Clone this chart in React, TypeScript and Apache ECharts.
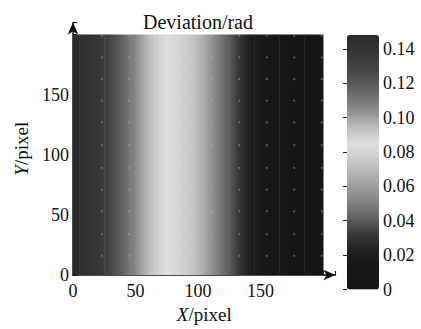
import { useEffect, useRef } from 'react';
import * as echarts from 'echarts';

// Sample positions (X/pixel) and the deviation (rad) read at each of them
const sampleX = [0, 5, 10, 15, 20, 25, 30, 35, 40, 45, 50, 55, 60, 65, 70, 75, 80, 85, 90, 95,
  100, 105, 110, 115, 120, 125, 130, 135, 140, 145, 150, 155, 160, 165, 170, 175, 180, 185, 190, 195, 200];
const deviation = [0.148, 0.146, 0.1435, 0.1405, 0.1375, 0.134, 0.128, 0.122, 0.116, 0.1105,
  0.105, 0.0995, 0.0945, 0.0905, 0.0875, 0.0845, 0.082, 0.0795, 0.0765, 0.0735,
  0.070, 0.064, 0.057, 0.0505, 0.0450, 0.0400, 0.0350, 0.0290, 0.0230, 0.0182,
  0.0145, 0.012, 0.0105, 0.0095, 0.0085, 0.0075, 0.0065, 0.0055, 0.0045, 0.0035, 0.003];
const imageTop = 200;

// faint grid dots
const dotX = [23, 45, 67, 89, 111, 133, 155, 177, 199];
const dotY = [16, 34, 53, 71, 89, 108, 127, 145, 163, 181, 199];

const axisTickLabels = [0, 50, 100, 150];
const colorbarMin = 0;
const colorbarMax = 0.148;
const colormap = ['#141414', '#161616', '#1d1d1d', '#363636', '#646464', '#8a8a8a', '#a8a8a8',
  '#c6c6c6', '#e0e0e0', '#b8b8b8', '#868686', '#636363', '#484848', '#373737', '#2a2a2a'];

const FONT = '"Liberation Serif", "Times New Roman", serif';

function colorOf(v: number) {
  let t = (v - colorbarMin) / (colorbarMax - colorbarMin);
  t = Math.max(0, Math.min(1, t));
  return echarts.color.lerp(t, colormap) as string;
}

export default function App() {
  const ref = useRef<HTMLDivElement>(null);
  useEffect(() => {
    document.body.style.margin = '0';
    if (!ref.current) return;
    const chart = echarts.init(ref.current, null, { renderer: 'svg' });
    const bandData = sampleX.slice(0, -1).map((x, i) => [x, deviation[i], sampleX[i + 1], deviation[i + 1]]);
    const dots: number[][] = [];
    dotY.forEach((y) => dotX.forEach((x) => dots.push([x, y])));
    const labelFmt = (v: number) => (axisTickLabels.includes(v) ? String(v) : '');
    const nameStyle = {
      fontFamily: FONT, fontSize: 19, color: '#111',
      rich: { i: { fontFamily: FONT, fontSize: 19, fontStyle: 'italic', color: '#111' } },
    };
    chart.setOption({
      animation: false,
      backgroundColor: '#fff',
      title: {
        text: 'Deviation/rad',
        left: 198,
        textAlign: 'center',
        top: 12,
        padding: 0,
        textStyle: { fontFamily: FONT, fontSize: 20, fontWeight: 'normal', color: '#111' },
      },
      grid: [
        { left: 73, top: 22.5, width: 262.5, height: 261.5 },
        { left: 347, top: 35, width: 32, height: 254.5 },
      ],
      xAxis: [
        {
          type: 'value', gridIndex: 0, min: 0, max: 210, interval: 50,
          name: '{i|X}/pixel', nameLocation: 'middle', nameGap: 30,
          nameTextStyle: nameStyle,
          axisLine: { show: true, symbol: ['none', 'arrow'], symbolSize: [8, 12], lineStyle: { color: '#111', width: 1.5 } },
          axisTick: { show: true, inside: true, length: 4, lineStyle: { color: '#111' } },
          axisLabel: { formatter: labelFmt, fontFamily: FONT, fontSize: 18, color: '#111', margin: 7 },
          splitLine: { show: false },
        },
        { type: 'value', gridIndex: 1, min: 0, max: 1, show: false },
      ],
      yAxis: [
        {
          type: 'value', gridIndex: 0, min: 0, max: 210, interval: 50,
          name: '{i|Y}/pixel', nameLocation: 'middle', nameGap: 42, nameRotate: 90,
          nameTextStyle: nameStyle,
          axisLine: { show: true, symbol: ['none', 'arrow'], symbolSize: [8, 12], lineStyle: { color: '#111', width: 1.5 } },
          axisTick: { show: true, inside: true, length: 4, lineStyle: { color: '#111' } },
          axisLabel: { formatter: labelFmt, fontFamily: FONT, fontSize: 18, color: '#111', margin: 4 },
          splitLine: { show: false },
        },
        {
          type: 'value', gridIndex: 1, position: 'right', min: colorbarMin, max: colorbarMax, interval: 0.02,
          axisLine: { show: false },
          axisTick: { show: true, inside: true, length: 4, lineStyle: { color: '#222' } },
          axisLabel: {
            formatter: (v: number) => (v === 0 ? '0' : v > colorbarMax ? '' : v.toFixed(2)),
            fontFamily: FONT, fontSize: 18, color: '#111', margin: 4,
          },
          splitLine: { show: false },
        },
      ],
      visualMap: {
        type: 'continuous',
        min: colorbarMin,
        max: colorbarMax,
        dimension: 1,
        seriesIndex: 0,
        calculable: false,
        hoverLink: false,
        left: 347,
        top: 35,
        padding: 0,
        itemWidth: 32,
        itemHeight: 254.5,
        inRange: { color: colormap },
        textStyle: { fontSize: 0 },
      },
      series: [
        {
          type: 'custom',
          xAxisIndex: 0,
          yAxisIndex: 0,
          data: bandData,
          encode: { x: 0, y: 1 },
          renderItem: (params: any, api: any) => {
            const x0 = api.value(0);
            const v0 = api.value(1);
            const x1 = api.value(2);
            const v1 = api.value(3);
            const p0 = api.coord([x0, imageTop]);
            const p1 = api.coord([x1, 0]);
            const stops = [0, 0.25, 0.5, 0.75, 1].map((o) => ({ offset: o, color: colorOf(v0 + (v1 - v0) * o) }));
            return {
              type: 'rect',
              shape: { x: p0[0], y: p0[1], width: p1[0] - p0[0] + 0.5, height: p1[1] - p0[1] },
              style: { fill: new echarts.graphic.LinearGradient(0, 0, 1, 0, stops) },
            };
          },
          z: 1,
        },
        {
          type: 'scatter',
          xAxisIndex: 0,
          yAxisIndex: 0,
          data: dots,
          symbol: 'circle',
          symbolSize: 2,
          itemStyle: { color: 'rgba(190,190,190,0.5)' },
          silent: true,
          z: 3,
        },
      ],
    });
    return () => chart.dispose();
  }, []);
  return <div ref={ref} style={{ width: 421, height: 329 }} />;
}
